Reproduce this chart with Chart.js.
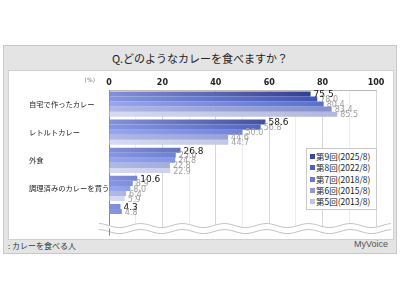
<!DOCTYPE html>
<html>
<head>
<meta charset="utf-8">
<script src="https://cdn.jsdelivr.net/npm/chart.js@4"></script>
<style>
  body { margin:0; width:400px; height:300px; background:#fff; font-family:"Noto Sans CJK JP", sans-serif; }
  #frame { position:absolute; left:3px; top:45px; width:392px; height:207px; background:#e4e4e4; border:1px solid #c8c8c8; }
  #title { position:absolute; left:0; top:4px; width:392px; text-align:center; font-size:11px; color:#222; }
  #plot { position:absolute; left:4px; top:24px; width:384px; height:168px; background:#fff; border:1px solid #d0d0d0; }
  #note { position:absolute; left:4px; top:194px; font-size:8px; color:#333; }
  #logo { position:absolute; right:8px; top:193px; font-size:9px; color:#555; font-family:"Liberation Sans", sans-serif; }
  #legend { position:absolute; left:297px; top:77px; width:66px; padding:2px 0 2px 3px; background:#fff; border:1px solid #c8c8c8; font-size:8.5px; color:#222; line-height:11.3px; }
  #legend span.m { display:inline-block; width:5px; height:5px; margin-right:1px; vertical-align:1px; }
</style>
</head>
<body>
<div id="frame">
  <div id="title">Q.どのようなカレーを食べますか？</div>
  <div id="plot"><canvas id="c" width="384" height="168"></canvas><div id="legend"></div></div>
  <div id="note">: カレーを食べる人</div>
  <div id="logo">MyVoice</div>
</div>
<script>
const categories = ['自宅で作ったカレー', 'レトルトカレー', '外食', '調理済みのカレーを買う', ''];
const seriesNames = ['第9回(2025/8)', '第8回(2022/8)', '第7回(2018/8)', '第6回(2015/8)', '第5回(2013/8)'];
const s9 = [75.5, 58.6, 26.8, 10.6, 4.3];
const s8 = [78.0, 56.8, 25.0, 8.9, 4.8];
const s7 = [80.4, 50.0, 24.8, 8.0, null];
const s6 = [83.4, 44.6, 22.8, 6.4, null];
const s5 = [85.5, 44.7, 22.9, 5.9, null];
const xTicks = [0, 20, 40, 60, 80, 100];

const seriesValues = [s9, s8, s7, s6, s5];
const gradStops = [
  ['#8391da', '#2c3b8c'],
  ['#8696e2', '#3c52b6'],
  ['#97a6ec', '#5a6fce'],
  ['#b0b8e4', '#8791cc'],
  ['#d6daf2', '#b3b9de']
];
const markColors = ['#3a4a9e', '#4a5fc4', '#6679d6', '#8f99d2', '#c0c5e6'];

function grad(i) {
  return function (ctx) {
    const ca = ctx.chart.chartArea;
    if (!ca) return gradStops[i][1];
    const g = ctx.chart.ctx.createLinearGradient(ca.left, 0, ca.right, 0);
    g.addColorStop(0, gradStops[i][0]);
    g.addColorStop(0.8, gradStops[i][1]);
    g.addColorStop(1, gradStops[i][1]);
    return g;
  };
}

const datasets = seriesValues.map(function (v, i) {
  return {
    label: seriesNames[i],
    data: v,
    backgroundColor: grad(i),
    borderWidth: 0,
    barPercentage: 1,
    categoryPercentage: 0.9
  };
});

const valueLabels = {
  id: 'valueLabels',
  afterDatasetsDraw(chart) {
    const ctx = chart.ctx;
    ctx.save();
    ctx.textBaseline = 'middle';
    chart.data.datasets.forEach(function (ds, i) {
      chart.getDatasetMeta(i).data.forEach(function (bar, j) {
        if (ds.data[j] == null) return;
        ctx.font = i === 0 ? '9px "DejaVu Sans"' : '8px "DejaVu Sans"';
        ctx.fillStyle = i === 0 ? '#111' : '#a0a0a0';
        ctx.fillText(ds.data[j].toFixed(1), bar.x + 3, bar.y + 1);
      });
    });
    ctx.restore();
  }
};

const waveBreak = {
  id: 'waveBreak',
  afterDraw(chart) {
    const ctx = chart.ctx;
    const ca = chart.chartArea;
    const y0 = chart.scales.y.getPixelForValue(4) + 9;
    ctx.save();
    function wave(off) {
      for (let x = ca.left - 10; x <= ca.right + 15; x += 2) {
        const y = y0 + off + 2 * Math.sin((x - ca.left) / 42 * 2 * Math.PI);
        if (x === ca.left - 10) ctx.moveTo(x, y); else ctx.lineTo(x, y);
      }
    }
    ctx.beginPath();
    wave(0);
    for (let x = ca.right + 15; x >= ca.left - 10; x -= 2) {
      ctx.lineTo(x, y0 + 20);
    }
    ctx.closePath();
    ctx.fillStyle = '#fff';
    ctx.fill();
    ctx.strokeStyle = '#c4c4c4';
    ctx.lineWidth = 1;
    ctx.beginPath(); wave(0); ctx.stroke();
    ctx.beginPath(); wave(6); ctx.stroke();
    ctx.beginPath();
    ctx.strokeStyle = '#888';
    ctx.moveTo(ca.left + 0.5, y0 + 3);
    ctx.lineTo(ca.left + 0.5, y0 + 10);
    ctx.stroke();
    ctx.fillStyle = '#777';
    ctx.font = '6px "DejaVu Sans"';
    ctx.textAlign = 'right';
    ctx.fillText('(%)', ca.left - 14, ca.top - 8);
    ctx.restore();
  }
};

new Chart(document.getElementById('c'), {
  type: 'bar',
  data: { labels: categories, datasets: datasets },
  options: {
    indexAxis: 'y',
    responsive: false,
    animation: false,
    layout: { padding: { right: 17, bottom: 0, left: 20 } },
    plugins: { legend: { display: false }, tooltip: { enabled: false } },
    scales: {
      x: {
        position: 'top',
        min: 0, max: 100,
        afterBuildTicks: function (s) { s.ticks = [0,10,20,30,40,50,60,70,80,90,100].map(function (v) { return { value: v }; }); },
        ticks: {
          autoSkip: false,
          padding: 2,
          color: '#222',
          font: { family: 'DejaVu Sans', size: 8, weight: 'bold' },
          callback: function (v) { return xTicks.indexOf(v) >= 0 ? v : ''; }
        },
        grid: {
          drawTicks: false,
          color: function (c) { return c.tick && c.tick.value % 20 === 0 ? '#d6d6d6' : '#ececec'; }
        },
        border: { display: true, color: '#bbb' },
        afterFit: function (s) { s.height = 19; }
      },
      y: {
        ticks: {
          crossAlign: 'far',
          padding: 4,
          color: '#222',
          font: { family: 'Noto Sans CJK JP', size: 7.3 }
        },
        grid: { display: false },
        border: { color: '#888' },
        afterFit: function (s) { s.width = 80; }
      }
    }
  },
  plugins: [valueLabels, waveBreak]
});

const lg = document.getElementById('legend');
seriesNames.forEach(function (n, i) {
  const row = document.createElement('div');
  row.innerHTML = '<span class="m" style="background:' + markColors[i] + '"></span>' + n;
  lg.appendChild(row);
});
</script>
</body>
</html>
